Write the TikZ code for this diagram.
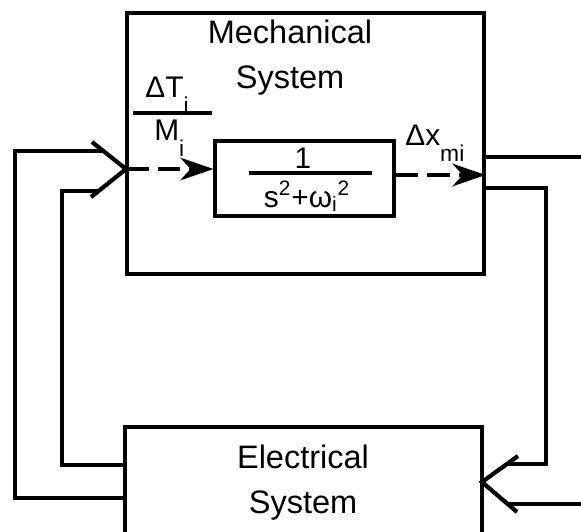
\documentclass[tikz,border=0pt]{standalone}
\usepackage{fontspec}
\setmainfont{Liberation Sans}
\usetikzlibrary{arrows.meta}
\newcommand{\lowsub}[1]{\raisebox{-0.55em}{\fontsize{13}{13}\selectfont #1}}

\begin{document}
\begin{tikzpicture}[
    x=0.02cm, y=-0.02cm,
    sysbox/.style={draw, rectangle, line width=1.8pt, inner sep=0pt, minimum width=7.14cm},
    tfbox/.style={draw, rectangle, line width=1.8pt, inner sep=0pt, minimum width=3.58cm, minimum height=1.5cm},
    title/.style={align=center, font=\fontsize{18.5}{25.6}\selectfont},
    lbl/.style={inner sep=0pt, anchor=base west, font=\fontsize{17}{17}\selectfont},
    wire/.style={line width=1.8pt},
    chev/.style={line width=2.4pt},
    dasharrow/.style={line width=1.8pt, dash pattern=on 13pt off 5pt, -{Stealth[length=19pt, width=13pt, inset=6pt]}}
]
    \useasboundingbox (0,0) rectangle (581,531);
    \clip (0,0) rectangle (581,531);

    % --- Blocks ---
    \node[sysbox, minimum height=5.22cm] (mech) at (305.5,143.5) {};
    \node[title] (mech_title) at (290,58) {Mechanical\\System};
    \node[tfbox] (tf) at (304.5,178.5) {};
    \node[sysbox, minimum height=3.5cm] (elec) at (303.5,514.5) {};
    \node[title] (elec_title) at (303,483) {Electrical\\System};

    % --- Labels ---
    \node[lbl] (dT) at (145,97) {ΔT\lowsub{i}};
    \node[lbl] (Mi) at (154,140) {M\lowsub{i}};
    \draw[wire] (133,113) -- (212,113);
    \node[font=\fontsize{17}{17}\selectfont] (tf_num) at (303,158) {1};
    \node[lbl, anchor=base] (tf_den) at (307,207) {s\textsuperscript{2}+ω\textsubscript{i}\textsuperscript{2}};
    \draw[wire] (249,173) -- (372,173);
    \node[lbl] (dx) at (405,145) {Δx\lowsub{mi}};

    % --- Junctions ---
    \coordinate (mech_j) at (126,169);
    \coordinate (elec_j) at (482,482);
    \draw[chev] (92,142) -- (mech_j) -- (91,197);
    \draw[chev] (518,456) -- (elec_j) -- (517,512);

    % --- Forward path (dashed) ---
    \draw[dasharrow] (mech_j) -- (mech_j -| tf.west);
    \draw[dasharrow] (tf.east |- 0,175) -- (mech.east |- 0,175);

    % --- Interconnecting wires ---
    \coordinate (out_far) at (600,157);
    \coordinate (in_far) at (600,504);
    \draw[wire] (mech.east |- out_far) -- (out_far);
    \draw[wire] (mech.east |- 0,188) -- (546,188) |- (507,464);
    \draw[wire] (in_far) -- (508,504);
    \draw[wire] (elec.west |- 0,465) -- (62,465) |- (98,191);
    \draw[wire] (elec.west |- 0,498) -- (15,498) |- (103,151);

\end{tikzpicture}
\end{document}
